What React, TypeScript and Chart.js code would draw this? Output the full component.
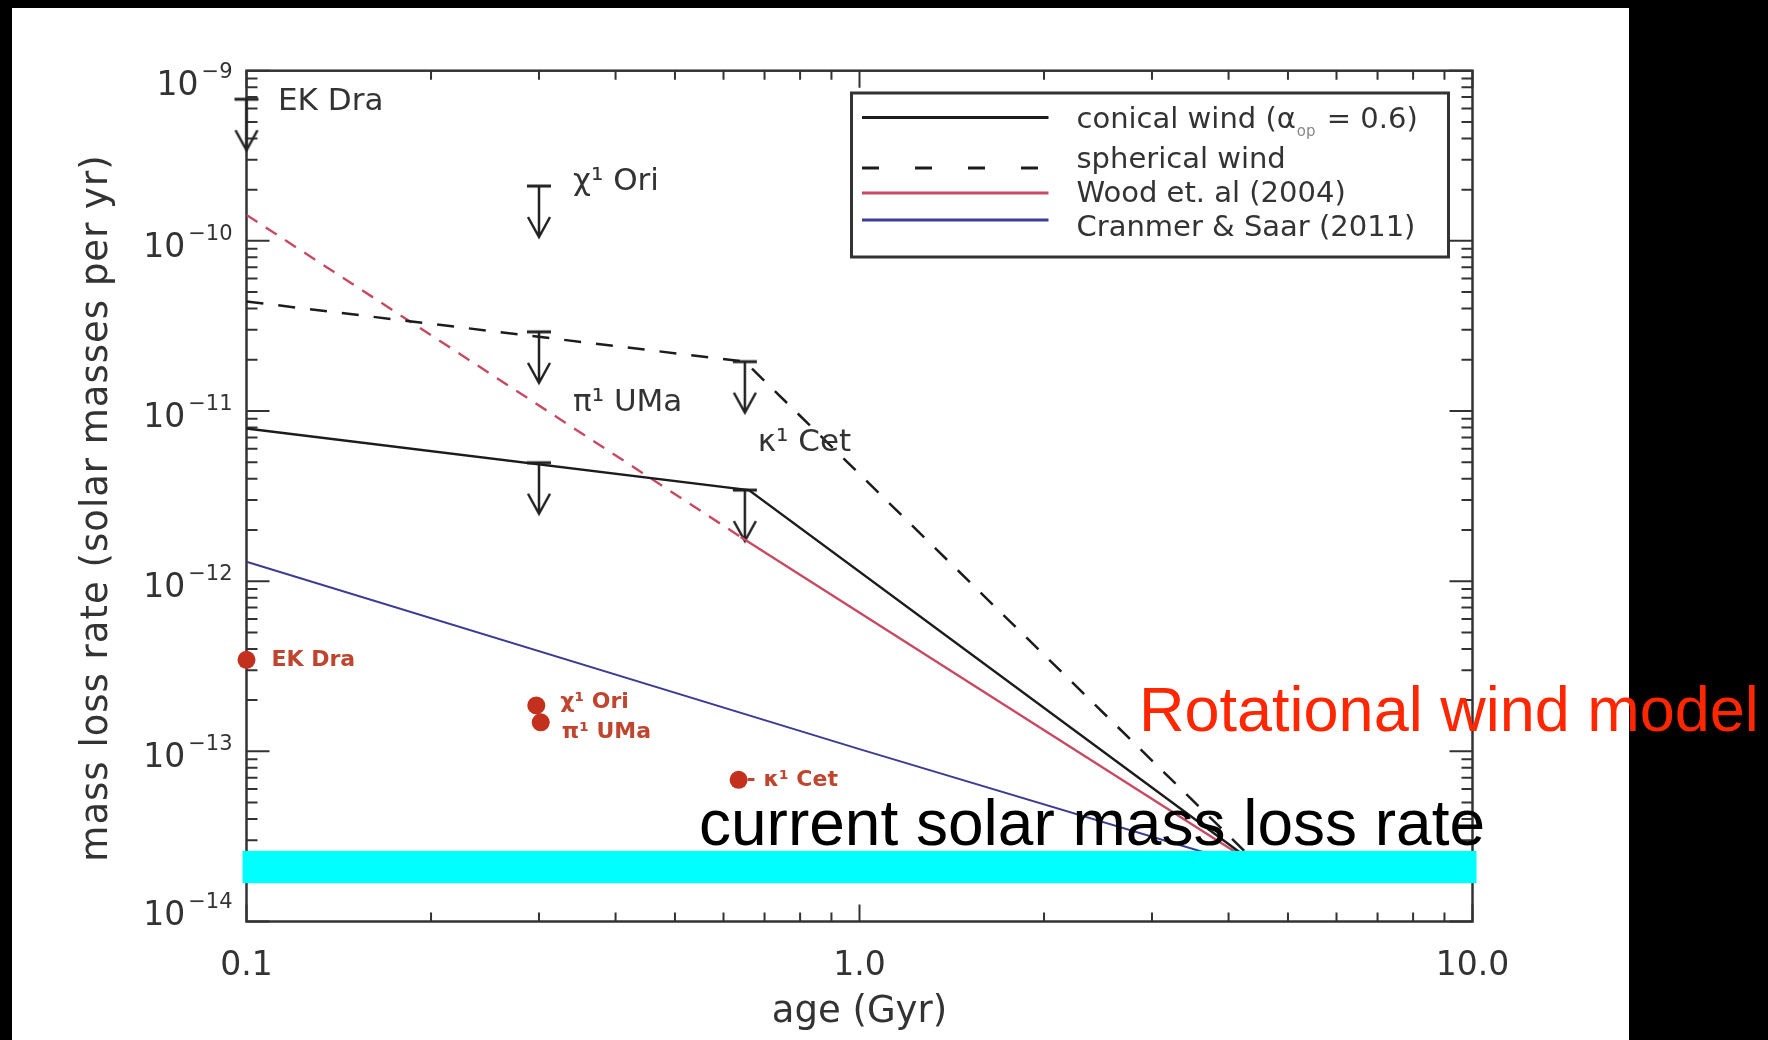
import React, { useEffect, useRef } from 'react';
import { Chart, registerables } from 'chart.js';

Chart.register(...registerables);

const W = 1768;
const H = 1040;

// ---------- data ----------
const xTickValues = [0.1, 1, 10];
const xTickLabels = ['0.1', '1.0', '10.0'];
const yTickExponents = [-9, -10, -11, -12, -13, -14];

const seriesLabels = ['conical wind (α_op = 0.6)', 'spherical wind', 'Wood et. al (2004)', 'Cranmer & Saar (2011)'];

const conicalX = [0.1, 0.66, 4.57];
const conicalY = [7.9e-12, 3.43e-12, 2.0e-14];

const sphericalX = [0.1, 0.65, 4.57];
const sphericalY = [4.4e-11, 1.95e-11, 2.0e-14];

const woodX = [0.1, 0.64, 4.57];
const woodY = [1.42e-10, 1.82e-12, 2.0e-14];

const cranmerX = [0.1, 1.0, 4.57];
const cranmerY = [1.3e-12, 1.03e-13, 2.0e-14];

const limitStars = ['EK Dra', 'χ¹ Ori', 'π¹ UMa', '', 'κ¹ Cet', ''];
const limitX = [0.1, 0.3, 0.3, 0.3, 0.65, 0.65];
const limitY = [6.8e-10, 2.1e-10, 2.92e-11, 4.97e-12, 1.95e-11, 3.43e-12];

const woodStars = ['EK Dra', 'χ¹ Ori', 'π¹ UMa', '- κ¹ Cet'];
const woodPtX = [0.1, 0.297, 0.302, 0.635];
const woodPtY = [3.45e-13, 1.86e-13, 1.48e-13, 6.8e-14];

const solarBand = [1.68e-14, 2.6e-14];

const xTitle = 'age (Gyr)';
const yTitle = 'mass loss rate (solar masses per yr)';
const bandText = 'current solar mass loss rate';
const modelText = 'Rotational wind model';

// ---------- styles ----------
const AXIS = '#333333';
const BLACK_LINE = '#1c1c1c';
const RED_LINE = '#c84a62';
const BLUE_LINE = '#3c3c96';
const DOT = '#c4301e';
const DOT_TEXT = '#c0452f';
const FONT = '"DejaVu Sans", Verdana, sans-serif';
const SANS = '"Liberation Sans", Arial, Helvetica, sans-serif';

const pts = (xs: number[], ys: number[]) => xs.map((x, i) => ({ x, y: ys[i] }));

function makeArrow(): HTMLCanvasElement {
  const c = document.createElement('canvas');
  c.width = 32;
  c.height = 112;
  const g = c.getContext('2d')!;
  const cx = 16;
  const cy = 56;
  g.strokeStyle = '#222';
  g.lineCap = 'butt';
  g.lineWidth = 3;
  g.beginPath();
  g.moveTo(cx - 12, cy);
  g.lineTo(cx + 12, cy);
  g.stroke();
  g.lineWidth = 2.5;
  g.beginPath();
  g.moveTo(cx, cy);
  g.lineTo(cx, cy + 51);
  g.moveTo(cx - 11, cy + 31);
  g.lineTo(cx, cy + 51);
  g.lineTo(cx + 11, cy + 31);
  g.stroke();
  return c;
}

function drawAxes(chart: any) {
  const { ctx, chartArea: a } = chart;
  const xs = chart.scales.x;
  const ys = chart.scales.y;
  ctx.save();
  ctx.strokeStyle = AXIS;
  ctx.lineWidth = 2;
  ctx.beginPath();
  for (let d = -1; d <= 1; d++) {
    for (let m = 1; m <= 9; m++) {
      const v = m * Math.pow(10, d);
      if (v > 10.0001) continue;
      const px = xs.getPixelForValue(v);
      const len = m === 1 ? 17 : 9;
      ctx.moveTo(px, a.bottom);
      ctx.lineTo(px, a.bottom - len);
      ctx.moveTo(px, a.top);
      ctx.lineTo(px, a.top + len);
    }
  }
  for (let e = -14; e <= -9; e++) {
    for (let m = 1; m <= 9; m++) {
      const v = m * Math.pow(10, e);
      if (v > 1.0001e-9) continue;
      const py = ys.getPixelForValue(v);
      const len = m === 1 ? 23 : 11;
      ctx.moveTo(a.left, py);
      ctx.lineTo(a.left + len, py);
      ctx.moveTo(a.right, py);
      ctx.lineTo(a.right - len, py);
    }
  }
  ctx.stroke();
  ctx.lineWidth = 2.5;
  ctx.strokeRect(a.left, a.top, a.right - a.left, a.bottom - a.top);

  // x tick labels
  ctx.fillStyle = AXIS;
  ctx.font = `33px ${FONT}`;
  ctx.textAlign = 'center';
  ctx.textBaseline = 'alphabetic';
  xTickValues.forEach((v, i) => {
    ctx.fillText(xTickLabels[i], xs.getPixelForValue(v), a.bottom + 53.5);
  });

  // y tick labels 10^e
  const rightX = a.left - 14;
  yTickExponents.forEach((e) => {
    const py = ys.getPixelForValue(Math.pow(10, e));
    const base = Math.min(Math.max(py + 16, a.top + 24), a.bottom + 3);
    const sup = '\u2212' + Math.abs(e);
    ctx.font = `21px ${FONT}`;
    ctx.textAlign = 'right';
    ctx.fillText(sup, rightX, base - 17);
    const sw = ctx.measureText(sup).width;
    ctx.font = `33px ${FONT}`;
    ctx.fillText('10', rightX - sw - 3, base);
  });

  // axis titles
  ctx.font = `37px ${FONT}`;
  ctx.textAlign = 'center';
  ctx.fillText(xTitle, (a.left + a.right) / 2, a.bottom + 100.5);
  ctx.save();
  ctx.translate(107, 508);
  ctx.rotate(-Math.PI / 2);
  try { (ctx as any).letterSpacing = '1px'; } catch (err) { /* ignore */ }
  ctx.fillText(yTitle, 0, 0);
  ctx.restore();
  ctx.restore();
}

function drawOverlay(chart: any) {
  const { ctx } = chart;
  const xs = chart.scales.x;
  const ys = chart.scales.y;
  ctx.save();

  // cyan band: current solar mass loss rate
  const yTop = ys.getPixelForValue(solarBand[1]);
  const yBot = ys.getPixelForValue(solarBand[0]);
  const xL = xs.getPixelForValue(0.1) - 4;
  const xR = xs.getPixelForValue(10) + 4;
  ctx.fillStyle = '#00ffff';
  ctx.fillRect(xL, yTop, xR - xL, yBot - yTop);

  // star labels at upper limits
  ctx.fillStyle = AXIS;
  ctx.font = `31px ${FONT}`;
  ctx.textAlign = 'left';
  ctx.textBaseline = 'middle';
  const limOff: Record<number, [number, number]> = { 0: [31.5, 2.5], 1: [34, -4], 2: [34, 71], 4: [13, 81] };
  limitStars.forEach((s, i) => {
    if (!s) return;
    const [dx, dy] = limOff[i];
    ctx.fillText(s, xs.getPixelForValue(limitX[i]) + dx, ys.getPixelForValue(limitY[i]) + dy);
  });

  // labels of Wood et al. measurements
  ctx.fillStyle = DOT_TEXT;
  ctx.font = `bold 22px ${FONT}`;
  const dotOff: [number, number][] = [[25, 0], [24, -3], [21, 10], [8, 0]];
  woodStars.forEach((s, i) => {
    const [dx, dy] = dotOff[i];
    ctx.fillText(s, xs.getPixelForValue(woodPtX[i]) + dx, ys.getPixelForValue(woodPtY[i]) + dy);
  });

  // legend
  const bx = 851.5, by = 93, bw = 597, bh = 164;
  ctx.strokeStyle = AXIS;
  ctx.lineWidth = 3;
  ctx.strokeRect(bx, by, bw, bh);
  const sx0 = 862, sx1 = 1048.5, tx = 1076.5;
  const sampleY = [117.5, 168, 193, 220];
  const textBase = [127.5, 168, 202, 236];
  const sampleColor = [BLACK_LINE, BLACK_LINE, RED_LINE, BLUE_LINE];
  const sampleDash = [[], [17, 36], [], []];
  sampleY.forEach((y, i) => {
    ctx.strokeStyle = sampleColor[i];
    ctx.lineWidth = 3;
    ctx.setLineDash(sampleDash[i]);
    ctx.beginPath();
    ctx.moveTo(sx0, y);
    ctx.lineTo(sx1, y);
    ctx.stroke();
  });
  ctx.setLineDash([]);
  ctx.fillStyle = AXIS;
  ctx.textBaseline = 'alphabetic';
  ctx.font = `29px ${FONT}`;
  // first label has a subscript
  const first = seriesLabels[0];
  const [pre, restAll] = first.split('_');
  const sub = restAll.slice(0, 2);
  const post = restAll.slice(2);
  ctx.fillText(pre, tx, textBase[0]);
  let cx = tx + ctx.measureText(pre).width + 1;
  ctx.font = `15px ${FONT}`;
  ctx.fillStyle = '#888';
  ctx.fillText(sub, cx, textBase[0] + 8);
  cx += ctx.measureText(sub).width + 2;
  ctx.font = `29px ${FONT}`;
  ctx.fillStyle = AXIS;
  ctx.fillText(post, cx, textBase[0]);
  for (let i = 1; i < 4; i++) ctx.fillText(seriesLabels[i], tx, textBase[i]);

  // slide annotations
  ctx.font = `64px ${SANS}`;
  ctx.fillStyle = '#000';
  ctx.fillText(bandText, 699, yTop - 6);
  ctx.font = `63px ${SANS}`;
  ctx.fillStyle = '#ff2600';
  ctx.fillText(modelText, 1139, 731);
  ctx.restore();
}

const decorPlugin = {
  id: 'decor',
  beforeDraw(chart: any) {
    const { ctx } = chart;
    ctx.save();
    ctx.fillStyle = '#000';
    ctx.fillRect(0, 0, chart.width, chart.height);
    ctx.fillStyle = '#fff';
    ctx.fillRect(12, 8, 1617, chart.height - 8);
    ctx.restore();
  },
  beforeDatasetsDraw(chart: any) {
    drawAxes(chart);
  },
  afterDatasetsDraw(chart: any) {
    drawOverlay(chart);
  },
};

export default function App() {
  const ref = useRef<HTMLCanvasElement>(null);
  useEffect(() => {
    const canvas = ref.current;
    if (!canvas) return;
    const arrow = makeArrow();
    const chart = new Chart(canvas, {
      type: 'line',
      data: {
        datasets: [
          {
            label: seriesLabels[0],
            data: pts(conicalX, conicalY),
            borderColor: BLACK_LINE,
            borderWidth: 2.5,
            pointRadius: 0,
          },
          {
            label: seriesLabels[1],
            data: pts(sphericalX, sphericalY),
            borderColor: BLACK_LINE,
            borderWidth: 2.5,
            borderDash: [17, 15],
            pointRadius: 0,
          },
          {
            label: seriesLabels[2],
            data: pts(woodX, woodY),
            borderColor: RED_LINE,
            borderWidth: 2.4,
            pointRadius: 0,
            segment: {
              borderDash: (c: any) => (c.p0DataIndex === 0 ? [13, 10] : undefined),
            },
          } as any,
          {
            label: seriesLabels[3],
            data: pts(cranmerX, cranmerY),
            borderColor: BLUE_LINE,
            borderWidth: 2,
            pointRadius: 0,
          },
          {
            label: 'upper limits',
            type: 'scatter',
            data: pts(limitX, limitY),
            pointStyle: arrow as any,
            pointRadius: 10,
            showLine: false,
            clip: false as any,
          } as any,
          {
            label: 'Wood et al. measurements',
            type: 'scatter',
            data: pts(woodPtX, woodPtY),
            pointStyle: 'circle',
            pointRadius: 9,
            backgroundColor: DOT,
            borderWidth: 0,
            showLine: false,
            clip: false as any,
          } as any,
        ],
      },
      options: {
        responsive: false,
        maintainAspectRatio: false,
        devicePixelRatio: 1,
        animation: false,
        layout: {
          padding: { left: 246.5, right: 295.5, top: 70.7, bottom: 118.5 },
        },
        scales: {
          x: { type: 'logarithmic', min: 0.1, max: 10, display: false },
          y: { type: 'logarithmic', min: 1e-14, max: 1e-9, display: false },
        },
        plugins: {
          legend: { display: false },
          tooltip: { enabled: false },
        },
        events: [],
      },
      plugins: [decorPlugin],
    } as any);
    return () => chart.destroy();
  }, []);

  return (
    <div style={{ position: 'fixed', left: 0, top: 0, width: W, height: H, background: '#000' }}>
      <canvas ref={ref} width={W} height={H} style={{ display: 'block', width: W, height: H }} />
    </div>
  );
}
